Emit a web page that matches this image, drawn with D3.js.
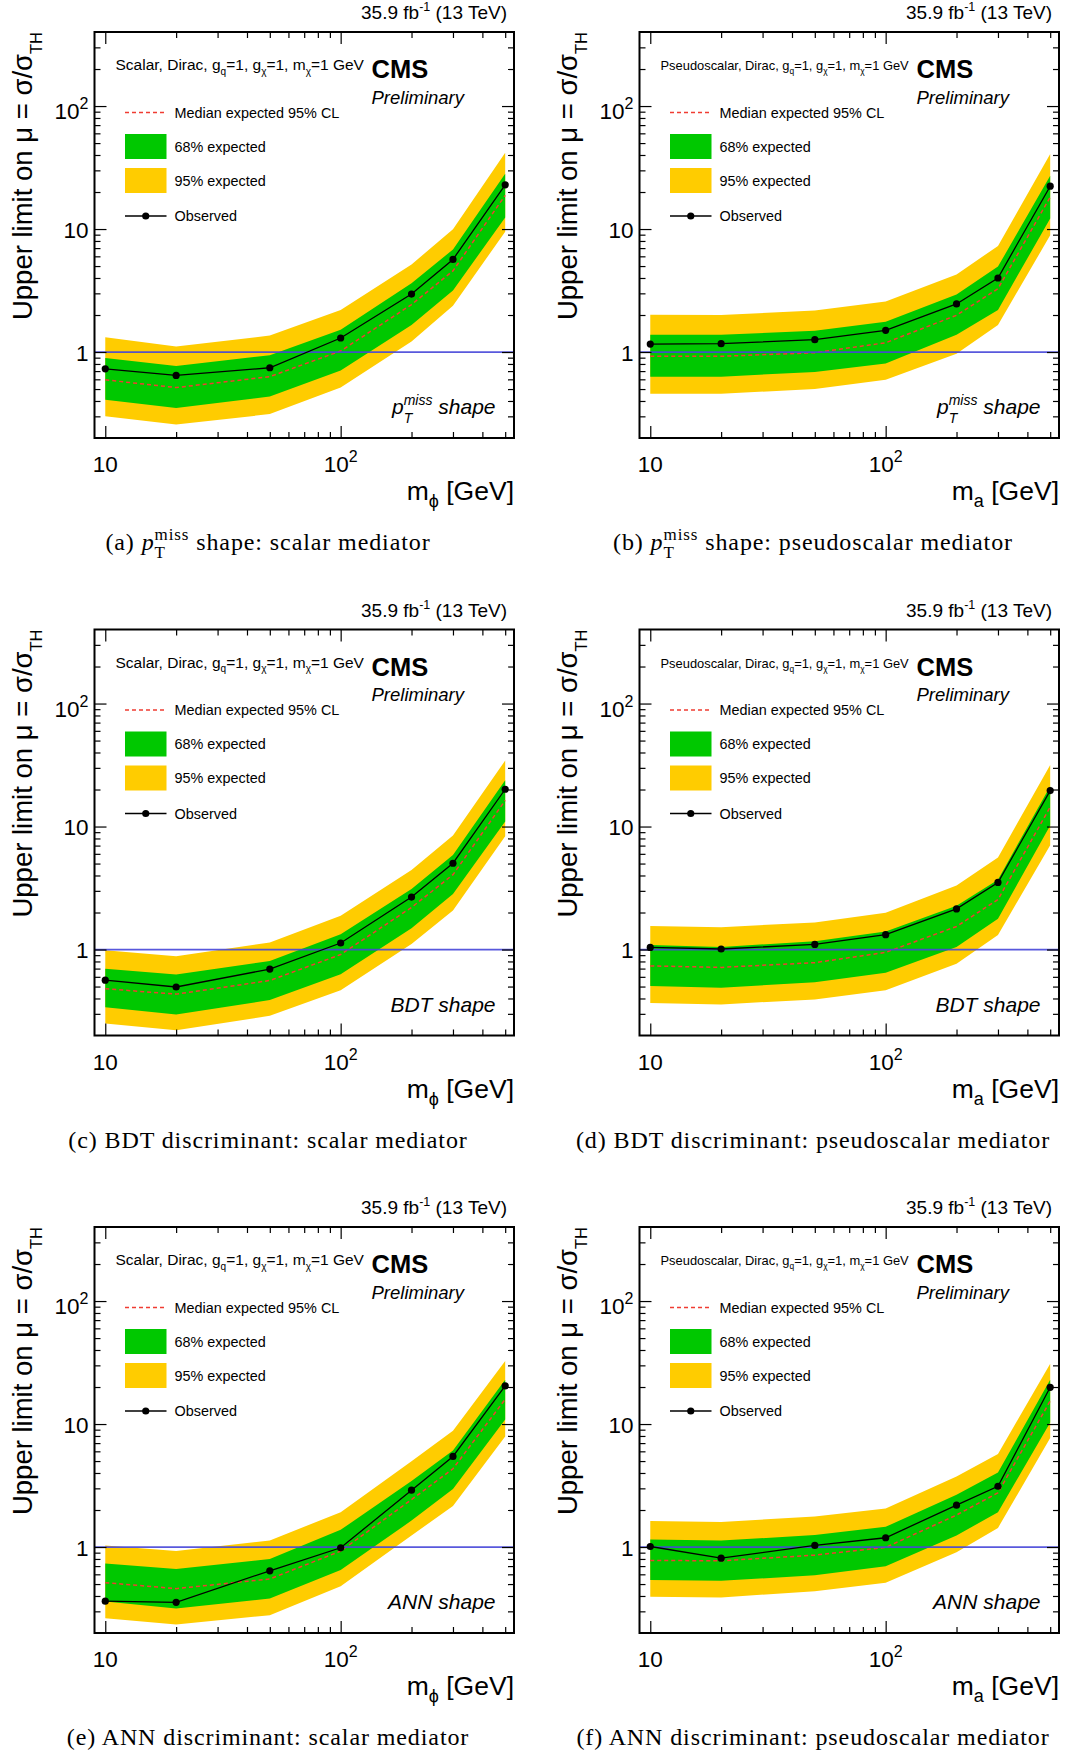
<!DOCTYPE html>
<html>
<head>
<meta charset="utf-8">
<script src="https://cdn.jsdelivr.net/npm/d3@7"></script>
<style>
body { margin: 0; background: #fff; }
text { white-space: pre; }
</style>
</head>
<body>
<svg id="fig" width="1065" height="1753"></svg>
<script>
// mediator masses (GeV), same for all six plots
var masses = [10, 20, 50, 100, 200, 300, 500];

// (a) pTmiss shape, scalar
var aObs  = [0.73, 0.645, 0.745, 1.30, 2.96, 5.66, 22.9];
var aExp  = [0.594, 0.514, 0.631, 1.02, 2.43, 4.57, 18.8];
var aHi68 = [0.893, 0.771, 0.942, 1.52, 3.62, 6.82, 28.2];
var aLo68 = [0.409, 0.351, 0.435, 0.707, 1.66, 3.17, 12.4];
var aHi95 = [1.32, 1.11, 1.36, 2.2, 5.15, 9.96, 41.8];
var aLo95 = [0.301, 0.257, 0.313, 0.514, 1.22, 2.38, 9.51];

// (b) pTmiss shape, pseudoscalar
var bObs  = [1.16, 1.17, 1.26, 1.50, 2.46, 4.0, 22.3];
var bExp  = [0.923, 0.923, 0.987, 1.19, 1.99, 3.27, 18.2];
var bHi68 = [1.38, 1.38, 1.49, 1.76, 2.94, 4.95, 27.1];
var bLo68 = [0.631, 0.631, 0.689, 0.808, 1.38, 2.2, 12.2];
var bHi95 = [2.01, 2.0, 2.18, 2.58, 4.27, 7.29, 40.7];
var bLo95 = [0.458, 0.458, 0.5, 0.594, 0.967, 1.66, 8.9];

// (c) BDT, scalar
var cObs  = [0.563, 0.496, 0.693, 1.13, 2.67, 5.03, 20.1];
var cExp  = [0.48, 0.434, 0.56, 0.91, 2.2, 4.06, 16.3];
var cHi68 = [0.697, 0.627, 0.808, 1.33, 3.11, 5.86, 23.8];
var cLo68 = [0.339, 0.297, 0.388, 0.631, 1.49, 2.83, 11.0];
var cHi95 = [0.987, 0.88, 1.14, 1.88, 4.43, 8.46, 34.4];
var cLo95 = [0.25, 0.221, 0.289, 0.467, 1.11, 2.08, 8.35];

// (d) BDT, pseudoscalar
var dObs  = [1.04, 1.01, 1.10, 1.32, 2.14, 3.51, 19.6];
var dExp  = [0.736, 0.716, 0.782, 0.948, 1.54, 2.55, 14.4];
var dHi68 = [1.09, 1.05, 1.17, 1.4, 2.27, 3.7, 21.3];
var dLo68 = [0.506, 0.49, 0.541, 0.648, 1.05, 1.78, 10.2];
var dHi95 = [1.55, 1.52, 1.66, 1.99, 3.32, 5.6, 31.7];
var dLo95 = [0.367, 0.358, 0.393, 0.467, 0.766, 1.31, 7.06];

// (e) ANN, scalar
var eObs  = [0.363, 0.355, 0.641, 0.986, 2.9, 5.45, 20.4];
var eExp  = [0.513, 0.459, 0.55, 0.927, 2.43, 4.33, 15.9];
var eHi68 = [0.736, 0.664, 0.8, 1.38, 3.44, 6.09, 22.9];
var eLo68 = [0.36, 0.316, 0.381, 0.65, 1.64, 2.96, 10.9];
var eHi95 = [1.03, 0.927, 1.13, 1.92, 4.98, 8.8, 32.5];
var eLo95 = [0.264, 0.234, 0.279, 0.479, 1.24, 2.16, 7.93];

// (f) ANN, pseudoscalar
var fObs  = [1.01, 0.812, 1.03, 1.19, 2.19, 3.12, 19.9];
var fExp  = [0.778, 0.773, 0.859, 0.993, 1.82, 2.76, 15.4];
var fHi68 = [1.15, 1.13, 1.25, 1.46, 2.66, 4.04, 22.9];
var fLo68 = [0.539, 0.531, 0.59, 0.697, 1.24, 1.92, 10.3];
var fHi95 = [1.63, 1.6, 1.77, 2.06, 3.74, 5.72, 30.9];
var fLo95 = [0.394, 0.389, 0.438, 0.513, 0.908, 1.43, 7.7];

var xMajor = [10, 100];
var xMinor = [20, 30, 40, 50, 60, 70, 80, 90, 200, 300, 400, 500];
var yMajor = [1, 10, 100];
var yMinor = [0.3, 0.4, 0.5, 0.6, 0.7, 0.8, 0.9, 2, 3, 4, 5, 6, 7, 8, 9, 20, 30, 40, 50, 60, 70, 80, 90, 200, 300];
var legendLabels = ['Median expected 95% CL', '68% expected', '95% expected', 'Observed'];

var sans = '"Liberation Sans", Arial, Helvetica, sans-serif';
var serif = '"Liberation Serif", "Times New Roman", serif';

var panels = [
  {col: 0, row: 0, tag: '(a)', model: 'Scalar', med: 'ϕ', method: 'pt', what: 'scalar mediator',
   obs: aObs, exp: aExp, hi68: aHi68, lo68: aLo68, hi95: aHi95, lo95: aLo95},
  {col: 1, row: 0, tag: '(b)', model: 'Pseudoscalar', med: 'a', method: 'pt', what: 'pseudoscalar mediator',
   obs: bObs, exp: bExp, hi68: bHi68, lo68: bLo68, hi95: bHi95, lo95: bLo95},
  {col: 0, row: 1, tag: '(c)', model: 'Scalar', med: 'ϕ', method: 'BDT', what: 'scalar mediator',
   obs: cObs, exp: cExp, hi68: cHi68, lo68: cLo68, hi95: cHi95, lo95: cLo95},
  {col: 1, row: 1, tag: '(d)', model: 'Pseudoscalar', med: 'a', method: 'BDT', what: 'pseudoscalar mediator',
   obs: dObs, exp: dExp, hi68: dHi68, lo68: dLo68, hi95: dHi95, lo95: dLo95},
  {col: 0, row: 2, tag: '(e)', model: 'Scalar', med: 'ϕ', method: 'ANN', what: 'scalar mediator',
   obs: eObs, exp: eExp, hi68: eHi68, lo68: eLo68, hi95: eHi95, lo95: eLo95},
  {col: 1, row: 2, tag: '(f)', model: 'Pseudoscalar', med: 'a', method: 'ANN', what: 'pseudoscalar mediator',
   obs: fObs, exp: fExp, hi68: fHi68, lo68: fLo68, hi95: fHi95, lo95: fLo95}
];

var W = 419.5, H = 406;
var colX = [94.5, 639.5], rowY = [32, 629.5, 1227];

var x = d3.scaleLog().domain([9, 545]).range([0, W]);
var y = d3.scaleLog().domain([0.2, 400]).range([H, 0]);

var svg = d3.select('#fig');

// lays out a run of text pieces (with sub/superscripts) and anchors it
function rich(parent, items, base, px, py, anchor, rot) {
  var g = parent.append('g'), inner = g.append('g'), cx = 0;
  function put(it, at) {
    var t = inner.append('text')
      .attr('x', at).attr('y', it.dy || 0)
      .attr('font-family', it.fam || base.fam || sans)
      .attr('font-size', it.fs || base.fs)
      .attr('font-style', (it.it !== undefined ? it.it : base.it) ? 'italic' : 'normal')
      .attr('font-weight', (it.b || base.b) ? 'bold' : 'normal')
      .attr('letter-spacing', base.ls || 0)
      .attr('fill', '#000')
      .text(it.t);
    return t.node().getComputedTextLength();
  }
  items.forEach(function(it) {
    if (typeof it === 'string') it = {t: it};
    if (it.stack) cx += d3.max(it.stack.map(function(s) { return put(s, cx); }));
    else cx += put(it, cx);
  });
  var off = anchor === 'end' ? -cx : anchor === 'middle' ? -cx / 2 : 0;
  inner.attr('transform', 'translate(' + off + ',0)');
  g.attr('transform', 'translate(' + px + ',' + py + ')' + (rot ? ' rotate(' + rot + ')' : ''));
  return g;
}

var band = function(lo, hi) {
  return d3.area().x(function(d, i) { return x(masses[i]); })
    .y0(function(d, i) { return y(lo[i]); })
    .y1(function(d, i) { return y(hi[i]); });
};
var line = d3.line().x(function(d, i) { return x(masses[i]); }).y(function(d) { return y(d); });

panels.forEach(function(p) {
  var fx = colX[p.col], fy = rowY[p.row];
  var g = svg.append('g').attr('transform', 'translate(' + fx + ',' + fy + ')');

  // bands
  g.append('path').attr('d', band(p.lo95, p.hi95)(masses)).attr('fill', '#ffcc00');
  g.append('path').attr('d', band(p.lo68, p.hi68)(masses)).attr('fill', '#00c800');
  g.append('path').attr('d', line(p.exp)).attr('fill', 'none')
    .attr('stroke', '#f03c32').attr('stroke-width', 1.5).attr('stroke-dasharray', '4,3');

  // mu = 1 line
  g.append('line').attr('x1', 0).attr('x2', W).attr('y1', y(1)).attr('y2', y(1))
    .attr('stroke', '#4646d8').attr('stroke-width', 1.8).attr('stroke-opacity', 0.9);

  // observed
  g.append('path').attr('d', line(p.obs)).attr('fill', 'none').attr('stroke', '#000').attr('stroke-width', 1.3);
  g.selectAll('circle.obs').data(p.obs).enter().append('circle').attr('class', 'obs')
    .attr('cx', function(d, i) { return x(masses[i]); })
    .attr('cy', function(d) { return y(d); })
    .attr('r', 3.6).attr('fill', '#000');

  // ticks on all four sides, pointing inward
  function ticks(axis, vals, len, tx, ty) {
    var a = g.append('g').attr('transform', 'translate(' + tx + ',' + ty + ')')
      .call(axis.tickValues(vals).tickSize(-len).tickFormat(''));
    a.select('.domain').remove();
    a.selectAll('line').attr('stroke', '#000').attr('stroke-width', 1.2);
  }
  ticks(d3.axisLeft(y), yMajor, 12, 0, 0);
  ticks(d3.axisLeft(y), yMinor, 6, 0, 0);
  ticks(d3.axisRight(y), yMajor, 12, W, 0);
  ticks(d3.axisRight(y), yMinor, 6, W, 0);
  ticks(d3.axisBottom(x), xMajor, 12, 0, H);
  ticks(d3.axisBottom(x), xMinor, 6, 0, H);
  ticks(d3.axisTop(x), xMajor, 12, 0, 0);
  ticks(d3.axisTop(x), xMinor, 6, 0, 0);

  g.append('rect').attr('x', 0).attr('y', 0).attr('width', W).attr('height', H)
    .attr('fill', 'none').attr('stroke', '#000').attr('stroke-width', 2);

  // tick labels
  var tl = {fs: 22.5};
  var sup2 = {t: '2', fs: 16, dy: -10};
  rich(g, ['1'], tl, -6, y(1) + 8.5, 'end');
  rich(g, ['10'], tl, -6, y(10) + 8.5, 'end');
  rich(g, ['10', sup2], tl, -6, y(100) + 13, 'end');
  rich(g, ['10'], tl, x(10), H + 34, 'middle');
  rich(g, ['10', sup2], tl, x(100), H + 34, 'middle');

  // axis titles
  rich(g, ['m', {t: p.med, fs: 18, dy: 7}, ' [GeV]'], {fs: 26.5}, W, H + 62, 'end');
  rich(g, ['Upper limit on μ = σ/σ', {t: 'TH', fs: 16.5, dy: 10}], {fs: 27.5}, -62.5, 0, 'end', -90);

  // lumi
  rich(g, ['35.9 fb', {t: '-1', fs: 12.5, dy: -8}, ' (13 TeV)'], {fs: 19}, 412.5, -13, 'end');

  // model header
  var hs = p.model === 'Scalar' ? 15.5 : 12.9;
  var sub = function(t) { return {t: t, fs: hs * 0.65, dy: hs * 0.32}; };
  rich(g, [p.model + ', Dirac, g', sub('q'), '=1, g', sub('χ'), '=1, m', sub('χ'), '=1 GeV'],
    {fs: hs}, 21, 38, 'start');

  rich(g, ['CMS'], {fs: 25.5, b: true}, 277, 46, 'start');
  rich(g, ['Preliminary'], {fs: 18.5, it: true}, 277, 71.5, 'start');

  // legend
  var lx0 = 30.5, lx1 = 72, ltx = 80;
  var rows = [80.5, 114.5, 148.5, 184];
  g.append('line').attr('x1', lx0).attr('x2', lx1).attr('y1', rows[0]).attr('y2', rows[0])
    .attr('stroke', '#f03c32').attr('stroke-width', 1.5).attr('stroke-dasharray', '4,3');
  g.append('rect').attr('x', lx0).attr('y', rows[1] - 12.5).attr('width', lx1 - lx0).attr('height', 25).attr('fill', '#00c800');
  g.append('rect').attr('x', lx0).attr('y', rows[2] - 12.5).attr('width', lx1 - lx0).attr('height', 25).attr('fill', '#ffcc00');
  g.append('line').attr('x1', lx0).attr('x2', lx1).attr('y1', rows[3]).attr('y2', rows[3])
    .attr('stroke', '#000').attr('stroke-width', 1.3);
  g.append('circle').attr('cx', (lx0 + lx1) / 2).attr('cy', rows[3]).attr('r', 3.6).attr('fill', '#000');
  legendLabels.forEach(function(l, i) {
    rich(g, [l], {fs: 14.4}, ltx, rows[i] + 5, 'start');
  });

  // method label
  var shapeItems = p.method === 'pt'
    ? ['p', {stack: [{t: 'miss', fs: 14, dy: -9}, {t: 'T', fs: 14, dy: 9}]}, ' shape']
    : [p.method + ' shape'];
  rich(g, shapeItems, {fs: 21, it: true}, 401, 382, 'end');

  // caption
  var capItems = p.method === 'pt'
    ? [p.tag + ' ', {t: 'p', it: true}, {stack: [{t: 'miss', fs: 17, dy: -10}, {t: 'T', fs: 17, dy: 7.5}]}, ' shape: ' + p.what]
    : [p.tag + ' ' + p.method + ' discriminant: ' + p.what];
  rich(g, capItems, {fs: 24, fam: serif, ls: 0.9}, 173.5, H + 112, 'middle');
});
</script>
</body>
</html>
